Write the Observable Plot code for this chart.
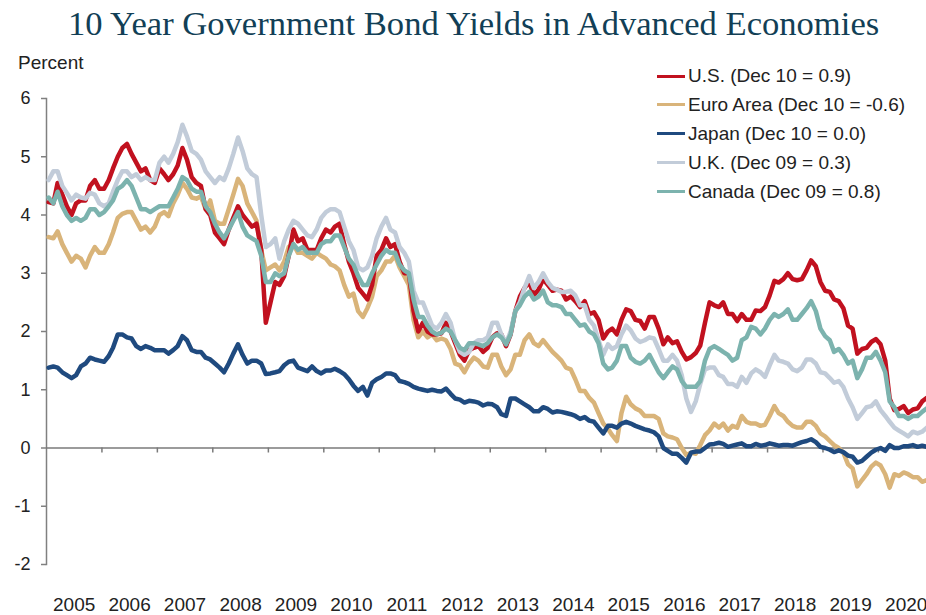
<!DOCTYPE html>
<html>
<head>
<meta charset="utf-8">
<script src="https://cdn.jsdelivr.net/npm/d3@7"></script>
<script src="https://cdn.jsdelivr.net/npm/@observablehq/plot@0.6"></script>
<style>
  body { margin: 0; background: #fff; }
  #wrap { position: relative; width: 926px; height: 615px; overflow: hidden; font-family: "Liberation Sans", Arial, sans-serif; }
  #title { position: absolute; left: 68px; top: 6px; white-space: nowrap; font-family: "Liberation Serif", "Times New Roman", serif; font-size: 34.6px; line-height: 34px; color: #123f56; }
  #chart { position: absolute; left: 0; top: 50px; }
  #legend { position: absolute; left: 657px; top: 0; }
  .lg-row { position: absolute; left: 0; height: 28px; display: flex; align-items: center; white-space: nowrap; font-size: 19px; color: #222; }
  .lg-sw { width: 28px; height: 3px; margin-right: 3px; }
</style>
</head>
<body>
<div id="wrap">
  <div id="title">10 Year Government Bond Yields in Advanced Economies</div>
  <div id="chart"></div>
  <div id="legend"></div>
</div>
<script>
// Series names (legend labels) and colours
const seriesNames = ["U.S. (Dec 10 = 0.9)", "Euro Area (Dec 10 = -0.6)", "Japan (Dec 10 = 0.0)", "U.K. (Dec 09 = 0.3)", "Canada (Dec 09 = 0.8)"];
const seriesColors = ["#c1111f", "#d9b47a", "#1f4a7f", "#c2ccd9", "#7cb3ae"];

// Axis ticks
const yTicks = [-2, -1, 0, 1, 2, 3, 4, 5, 6];
const yearLabels = [2005, 2006, 2007, 2008, 2009, 2010, 2011, 2012, 2013, 2014, 2015, 2016, 2017, 2018, 2019, 2020];

// Monthly 10-year yields (percent), Jan 2005 – Dec 2020
const us = [
  4.22, 4.2, 4.55, 4.35, 4.15, 4.0, 4.2, 4.25, 4.25, 4.5, 4.6, 4.45,
  4.45, 4.6, 4.8, 5.0, 5.15, 5.22, 5.05, 4.9, 4.75, 4.8, 4.6, 4.55,
  4.8, 4.7, 4.6, 4.7, 4.85, 5.15, 4.95, 4.65, 4.55, 4.5, 4.1, 4.0,
  3.7, 3.6, 3.5, 3.75, 3.95, 4.15, 4.0, 3.9, 3.8, 3.85, 3.4, 2.15,
  2.5, 2.85, 2.8, 2.95, 3.3, 3.75, 3.55, 3.6, 3.4, 3.4, 3.4, 3.6,
  3.75, 3.7, 3.8, 3.85, 3.5, 3.2, 3.0, 2.75, 2.65, 2.55, 2.8, 3.3,
  3.4, 3.6, 3.45, 3.5, 3.2, 3.0, 3.0, 2.35, 2.0, 2.15, 2.0, 1.95,
  1.95, 1.97, 2.15, 2.0, 1.8, 1.6, 1.5, 1.68, 1.72, 1.75, 1.65, 1.72,
  1.9, 1.97, 1.95, 1.75, 1.95, 2.35, 2.6, 2.75, 2.85, 2.62, 2.72, 2.9,
  2.8, 2.7, 2.72, 2.7, 2.55, 2.6, 2.52, 2.42, 2.52, 2.3, 2.33, 2.2,
  1.88, 2.0, 2.05, 1.95, 2.2, 2.38, 2.35, 2.2, 2.18, 2.05, 2.25, 2.25,
  2.05, 1.78, 1.9, 1.8, 1.83, 1.65, 1.52, 1.56, 1.63, 1.76, 2.15, 2.5,
  2.45, 2.42, 2.5, 2.3, 2.3, 2.18, 2.3, 2.2, 2.2, 2.36, 2.35, 2.42,
  2.62, 2.87, 2.84, 2.9, 3.0, 2.9, 2.88, 2.9, 3.05, 3.22, 3.12, 2.85,
  2.7, 2.68, 2.55, 2.52, 2.4, 2.1, 2.05, 1.62, 1.7, 1.72, 1.82, 1.87,
  1.78, 1.5, 0.85, 0.65, 0.67, 0.72, 0.6, 0.66, 0.68, 0.8, 0.86, 0.93
];
const euro = [
  3.62, 3.6, 3.72, 3.5, 3.35, 3.2, 3.3, 3.25, 3.1, 3.3, 3.45, 3.35,
  3.35, 3.5, 3.7, 3.95, 4.02, 4.05, 4.05, 3.9, 3.75, 3.8, 3.7, 3.8,
  4.0, 4.05, 3.98, 4.2, 4.35, 4.55, 4.45, 4.3, 4.28, 4.32, 4.1, 4.25,
  3.9, 3.85, 3.85, 4.1, 4.35, 4.62, 4.5, 4.2, 4.05, 3.9, 3.4, 3.05,
  3.1, 3.15, 3.05, 3.2, 3.45, 3.5, 3.35, 3.35, 3.3, 3.25, 3.35, 3.3,
  3.25, 3.15, 3.12, 3.05, 2.8, 2.6, 2.65, 2.35, 2.25, 2.4, 2.6, 2.95,
  3.05, 3.2, 3.2, 3.3, 3.1, 2.95, 2.8, 2.2, 1.9, 2.0, 1.9, 1.95,
  1.85, 1.88, 1.85, 1.7, 1.45, 1.42, 1.3, 1.45, 1.55, 1.5, 1.4, 1.38,
  1.6, 1.6, 1.4, 1.25, 1.35, 1.6, 1.6, 1.85, 1.95, 1.8, 1.75, 1.85,
  1.75, 1.65, 1.58, 1.5, 1.38, 1.35, 1.18, 0.98, 0.98, 0.86, 0.78, 0.6,
  0.42, 0.33, 0.22, 0.12, 0.6, 0.88, 0.75, 0.68, 0.64, 0.55, 0.55, 0.55,
  0.5, 0.25, 0.2, 0.18, 0.15, 0.0, -0.12, -0.08, -0.1, 0.05, 0.22, 0.3,
  0.42, 0.35, 0.42, 0.3, 0.38, 0.35, 0.55, 0.45, 0.42, 0.42, 0.38, 0.4,
  0.55, 0.72, 0.6, 0.55, 0.45, 0.38, 0.35, 0.35, 0.45, 0.45, 0.38, 0.25,
  0.2, 0.12, 0.05, 0.0, -0.08, -0.28, -0.35, -0.66, -0.55, -0.45, -0.32, -0.25,
  -0.3, -0.45, -0.68, -0.45, -0.48, -0.42, -0.45, -0.5, -0.5, -0.58, -0.55, -0.6
];
const japan = [
  1.38, 1.4, 1.38, 1.3, 1.25, 1.2, 1.25, 1.4, 1.45, 1.55, 1.52, 1.5,
  1.48, 1.58, 1.72, 1.95, 1.95, 1.9, 1.88, 1.75, 1.7, 1.75, 1.72, 1.68,
  1.68, 1.68, 1.62, 1.68, 1.75, 1.92, 1.85, 1.68, 1.65, 1.65, 1.55, 1.52,
  1.45, 1.38, 1.3, 1.45, 1.62, 1.78, 1.6, 1.45, 1.5, 1.5, 1.45, 1.27,
  1.28, 1.3, 1.32, 1.42, 1.48, 1.5, 1.38, 1.35, 1.32, 1.4, 1.32, 1.28,
  1.33, 1.33, 1.36, 1.32, 1.27, 1.18, 1.07, 0.98, 1.05, 0.9, 1.12, 1.18,
  1.22, 1.28, 1.28, 1.25, 1.15, 1.13, 1.1, 1.05, 1.02, 1.0, 0.98, 1.0,
  0.98, 0.97, 1.02, 0.93, 0.85, 0.83, 0.78, 0.81, 0.8, 0.78, 0.73, 0.76,
  0.75, 0.7, 0.58, 0.55, 0.85, 0.85, 0.8, 0.75, 0.7, 0.63, 0.63, 0.7,
  0.67, 0.61, 0.63, 0.62, 0.6, 0.58, 0.55, 0.5, 0.53, 0.47, 0.45, 0.35,
  0.25, 0.38, 0.38, 0.35, 0.42, 0.45, 0.42, 0.38, 0.35, 0.32, 0.3, 0.27,
  0.2, 0.0, -0.05, -0.1, -0.1, -0.17, -0.25, -0.08, -0.06, -0.06, 0.0, 0.06,
  0.07, 0.09, 0.07, 0.02, 0.04, 0.06, 0.08, 0.03, 0.03, 0.07, 0.04, 0.05,
  0.08, 0.06, 0.04, 0.05, 0.05, 0.04, 0.07, 0.1, 0.12, 0.15, 0.1, 0.02,
  0.0, -0.03, -0.07, -0.04, -0.07, -0.13, -0.15, -0.25, -0.22, -0.15, -0.08, -0.03,
  0.0, -0.05, 0.05, 0.0, 0.0, 0.03, 0.03, 0.05, 0.02, 0.04, 0.02, 0.02
];
const uk = [
  4.6, 4.75, 4.75, 4.5, 4.38, 4.25, 4.35, 4.3, 4.28, 4.38, 4.35, 4.2,
  4.15, 4.2, 4.4, 4.6, 4.75, 4.75, 4.65, 4.7, 4.6, 4.65, 4.6, 4.6,
  4.9, 5.0, 4.9, 5.05, 5.25, 5.55, 5.35, 5.1, 5.05, 4.95, 4.75, 4.65,
  4.55, 4.65, 4.6, 4.8, 5.05, 5.33, 5.1, 4.8, 4.7, 4.65, 4.0, 3.45,
  3.5, 3.6, 3.25, 3.55, 3.75, 3.9, 3.85, 3.75, 3.65, 3.62, 3.75, 3.95,
  4.05, 4.1, 4.1, 4.05, 3.8, 3.55, 3.4, 3.1, 3.05, 3.1, 3.3, 3.6,
  3.8, 3.95, 3.75, 3.7, 3.45, 3.35, 3.2, 2.7, 2.5, 2.5, 2.3, 2.1,
  2.05, 2.15, 2.3, 2.15, 1.85, 1.65, 1.6, 1.65, 1.8, 1.85, 1.85, 1.9,
  2.15, 2.15, 1.95, 1.8, 2.0, 2.35, 2.5, 2.75, 2.95, 2.75, 2.85, 3.0,
  2.85, 2.75, 2.72, 2.68, 2.68, 2.7, 2.62, 2.45, 2.45, 2.2, 2.1, 1.85,
  1.6, 1.78, 1.7, 1.75, 1.95, 2.1, 2.02, 1.88, 1.82, 1.85, 1.9, 1.88,
  1.7, 1.5, 1.5, 1.6, 1.5, 1.25, 0.85, 0.62, 0.8, 1.1, 1.35, 1.38,
  1.38, 1.25, 1.22, 1.1, 1.1, 1.05, 1.22, 1.12, 1.28, 1.35, 1.3, 1.22,
  1.42, 1.6, 1.5, 1.48, 1.45, 1.35, 1.32, 1.38, 1.52, 1.52, 1.45, 1.3,
  1.28, 1.2, 1.12, 1.15, 1.05, 0.85, 0.7, 0.5, 0.6, 0.7, 0.72, 0.8,
  0.65, 0.55, 0.45, 0.35, 0.3, 0.25, 0.2, 0.28, 0.25, 0.28, 0.35, 0.3
];
const canada = [
  4.3, 4.2, 4.4, 4.15, 4.0, 3.9, 3.95, 3.9, 3.95, 4.1, 4.1, 4.0,
  4.05, 4.15, 4.25, 4.45, 4.5, 4.6, 4.5, 4.3, 4.1, 4.1, 4.05, 4.1,
  4.15, 4.15, 4.15, 4.3, 4.45, 4.65, 4.6, 4.45, 4.4, 4.4, 4.15, 4.05,
  3.85, 3.7, 3.6, 3.75, 3.9, 4.05, 3.8, 3.65, 3.6, 3.55, 3.3, 2.85,
  2.85, 3.0, 2.95, 3.0, 3.3, 3.5, 3.4, 3.45, 3.35, 3.35, 3.35, 3.5,
  3.55, 3.55, 3.65, 3.65, 3.45, 3.25, 3.15, 2.95, 2.8, 2.8, 3.0, 3.15,
  3.3, 3.4, 3.35, 3.35, 3.15, 3.05, 3.0, 2.55, 2.25, 2.25, 2.1, 2.0,
  1.95, 1.98, 2.05, 2.0, 1.85, 1.72, 1.68, 1.8, 1.8, 1.78, 1.75, 1.8,
  1.9, 1.95, 1.9, 1.78, 1.95, 2.35, 2.45, 2.6, 2.68, 2.55, 2.6, 2.7,
  2.5, 2.45, 2.45, 2.42, 2.3, 2.3, 2.2, 2.1, 2.12, 2.0, 1.95, 1.8,
  1.45, 1.35, 1.38, 1.5, 1.75, 1.75, 1.55, 1.48, 1.45, 1.5, 1.6, 1.45,
  1.3, 1.2, 1.3, 1.4, 1.35, 1.15, 1.05, 1.05, 1.05, 1.15, 1.5, 1.7,
  1.75, 1.7, 1.65, 1.6, 1.5, 1.55, 1.85, 1.9, 2.08, 2.05, 1.95, 2.05,
  2.2, 2.3, 2.25, 2.3, 2.38, 2.2, 2.2, 2.3, 2.4, 2.52, 2.35, 2.05,
  1.92, 1.85, 1.65, 1.7, 1.6, 1.45, 1.5, 1.2, 1.35, 1.55, 1.55, 1.65,
  1.5, 1.3, 0.8, 0.7, 0.55, 0.55, 0.5, 0.55, 0.55, 0.62, 0.68, 0.75
];

// Build a tidy table (mid-month dates)
const months = d3.utcMonth.range(new Date(Date.UTC(2005, 0, 1)), new Date(Date.UTC(2021, 0, 1)))
  .map(d => d3.utcDay.offset(d, 14));
const seriesValues = [us, euro, japan, uk, canada];
const drawOrder = [1, 0, 3, 4, 2]; // Euro, US, UK, Canada, Japan
const rows = [];
for (const s of drawOrder) {
  seriesValues[s].forEach((v, i) => rows.push({date: months[i], value: v, series: seriesNames[s]}));
}

const yearStarts = yearLabels.map(y => new Date(Date.UTC(y, 0, 1)));
const yearMids = yearLabels.map(y => new Date(Date.UTC(y, 6, 2)));

const chart = Plot.plot({
  width: 926,
  height: 565,
  marginTop: 48,
  marginBottom: 51,
  marginLeft: 46,
  marginRight: 0,
  style: {fontFamily: "'Liberation Sans', Arial, sans-serif", fontSize: "18px", color: "#222", background: "#fff", overflow: "hidden"},
  x: {type: "utc", domain: [new Date(Date.UTC(2005, 0, 1)), new Date(Date.UTC(2021, 0, 1))], range: [46, 933.5]},
  y: {domain: [-2, 6]},
  color: {domain: seriesNames, range: seriesColors},
  marks: [
    Plot.frame({anchor: "left", stroke: "#808080", strokeWidth: 1.5}),
    Plot.axisY({ticks: yTicks, tickSize: 5, tickPadding: 11, tickFormat: d => String(d), label: null, stroke: "#808080", strokeWidth: 1.5, fill: "#222", fontSize: 18}),
    Plot.axisX({ticks: yearMids, tickSize: 0, tickPadding: 33, tickFormat: d => String(d.getUTCFullYear()), label: null, fill: "#222", fontSize: 19}),
    Plot.ruleY([0], {stroke: "#7a7a7a", strokeWidth: 1.5}),
    Plot.ruleX(yearStarts.slice(1), {x: d => d, y1: 0, y2: 0, insetBottom: -5, stroke: "#7a7a7a", strokeWidth: 1.5}),
    Plot.lineY(rows, {x: "date", y: "value", z: "series", stroke: "series", strokeWidth: 4.5, strokeLinejoin: "round", strokeLinecap: "round"}),
    Plot.text(["Percent"], {frameAnchor: "top-left", lineAnchor: "middle", dx: -28.5, dy: -35.5, textAnchor: "start", fontSize: 19, fill: "#222"})
  ]
});
document.getElementById("chart").appendChild(chart);

// Legend (HTML, top-right inside the plot area)
const legend = document.getElementById("legend");
seriesNames.forEach((name, i) => {
  const row = document.createElement("div");
  row.className = "lg-row";
  row.style.top = (76 + i * 28.9 - 14) + "px";
  const sw = document.createElement("span");
  sw.className = "lg-sw";
  sw.style.background = seriesColors[i];
  const tx = document.createElement("span");
  tx.textContent = name;
  row.appendChild(sw);
  row.appendChild(tx);
  legend.appendChild(row);
});
</script>
</body>
</html>
